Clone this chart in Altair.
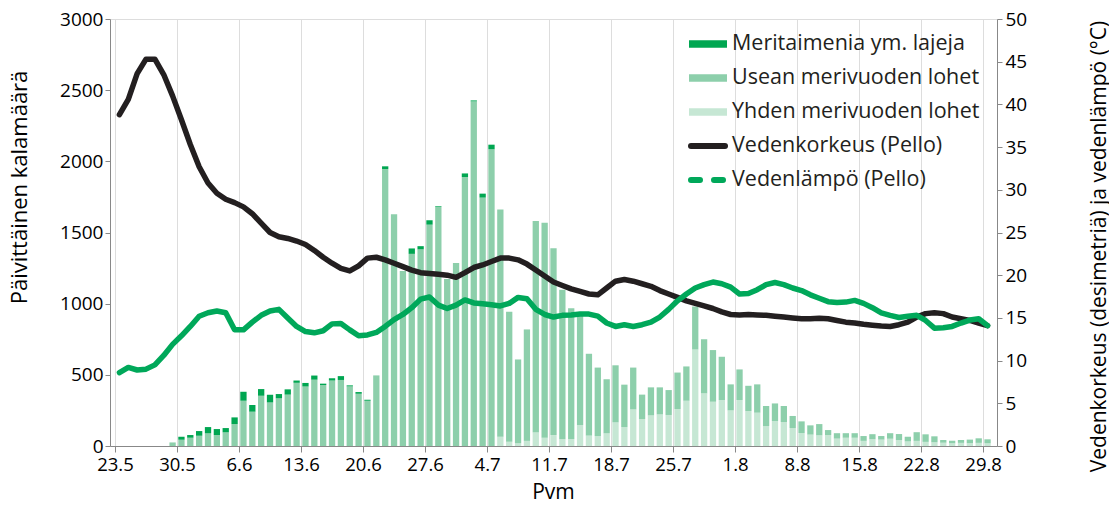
import altair as alt
import pandas as pd

# Day index 0 = 23.5, last index 98 = 29.8
tick_labels = ["23.5", "30.5", "6.6", "13.6", "20.6", "27.6", "4.7", "11.7",
               "18.7", "25.7", "1.8", "8.8", "15.8", "22.8", "29.8"]

first_bar_day = 6  # first counted day (29.5)

meritaimen = [0, 21, 19, 33, 44, 42, 30, 47, 63, 47, 47, 54, 30, 37, 16, 25, 29, 10, 16, 27,
              7, 12, 7, 0, 19, 0, 0, 38, 22, 31, 5, 0, 0, 25, 7, 28, 33,
              0, 0, 0, 0, 0, 0, 0, 0, 0, 0, 0, 0, 0, 0, 0, 0, 0, 0, 0, 0, 0, 0,
              0, 0, 0, 0, 0, 0, 0, 0, 0, 0, 0, 0, 0, 0, 0, 0, 0, 0, 0, 0, 0, 0,
              0, 0, 0, 0, 0, 0, 0, 0, 0, 0, 0, 0, 0, 0]
usean = [25, 44, 58, 72, 89, 77, 96, 154, 318, 241, 353, 306, 335, 361, 444, 418, 466, 428, 460, 464,
         419, 367, 318, 496, 1946, 1628, 1229, 1350, 1382, 1555, 1679, 1173, 1285, 1890, 2421, 1745, 2084,
         1596, 913, 589, 783, 1486, 1510, 1313, 1050, 918, 773, 575, 481, 380, 401, 298, 294, 172, 197,
         190, 175, 256, 241, 302, 380, 363, 304, 183, 215, 177, 199, 141, 124, 113, 85, 82, 65, 79, 35,
         38, 32, 32, 34, 35, 25, 39, 42, 33, 61, 53, 42, 19, 18, 20, 25, 32, 28]
yhden = [0, 0, 0, 0, 0, 0, 0, 0, 0, 0, 0, 0, 0, 0, 0, 0, 0, 0, 0, 0,
         0, 0, 0, 0, 0, 0, 0, 0, 0, 0, 0, 0, 0, 0, 0, 0, 0,
         65, 30, 19, 36, 94, 58, 77, 47, 50, 147, 73, 70, 89, 166, 133, 257, 189, 215,
         222, 218, 260, 318, 678, 370, 311, 323, 250, 323, 246, 234, 140, 175, 168, 126, 91, 80, 75, 77,
         52, 58, 58, 36, 48, 45, 51, 42, 32, 36, 29, 26, 23, 19, 22, 20, 22, 19]

vedenkorkeus = [38.8, 40.6, 43.6, 45.3, 45.3, 43.5, 41.0, 38.2, 35.3, 32.7, 30.8, 29.6, 28.9, 28.5,
                28.0, 27.2, 26.1, 25.0, 24.5, 24.3, 24.0, 23.6, 22.9, 22.1, 21.4, 20.8, 20.5, 21.1,
                22.0, 22.1, 21.8, 21.4, 21.0, 20.6, 20.3, 20.2, 20.1, 20.0, 19.75, 20.3, 20.9, 21.2,
                21.6, 22.0, 22.0, 21.8, 21.3, 20.6, 19.9, 19.2, 18.8, 18.4, 18.1, 17.8, 17.7, 18.5,
                19.3, 19.5, 19.3, 19.0, 18.7, 18.2, 17.8, 17.4, 17.0, 16.7, 16.4, 16.1, 15.7, 15.4,
                15.35, 15.4, 15.35, 15.3, 15.2, 15.1, 15.0, 14.9, 14.9, 14.95, 14.9, 14.7, 14.5, 14.4,
                14.25, 14.15, 14.05, 14.0, 14.2, 14.5, 15.1, 15.5, 15.6, 15.5, 15.1, 14.9, 14.7, 14.4, 14.1]
vedenlampo = [8.6, 9.2, 8.9, 9.0, 9.5, 10.6, 11.9, 12.9, 14.0, 15.2, 15.6, 15.8, 15.6, 13.6,
              13.6, 14.5, 15.3, 15.8, 16.0, 15.0, 14.0, 13.4, 13.25, 13.5, 14.3, 14.35, 13.6, 12.9,
              13.0, 13.3, 14.0, 14.8, 15.4, 16.2, 17.2, 17.45, 16.5, 16.1, 16.5, 17.1, 16.75, 16.65,
              16.55, 16.4, 16.7, 17.4, 17.25, 16.0, 15.4, 15.1, 15.3, 15.35, 15.45, 15.45, 15.2, 14.4,
              14.0, 14.2, 14.0, 14.2, 14.5, 15.1, 16.0, 17.0, 17.8, 18.5, 18.9, 19.2, 19.0, 18.6,
              17.8, 17.85, 18.3, 18.9, 19.15, 18.9, 18.5, 18.2, 17.7, 17.3, 16.9, 16.8, 16.85, 17.05,
              16.7, 16.2, 15.6, 15.3, 15.05, 15.2, 15.3, 14.7, 13.8, 13.85, 14.0, 14.4, 14.75, 14.9, 14.1]

species = ["Meritaimenia ym. lajeja", "Usean merivuoden lohet", "Yhden merivuoden lohet"]
line_labels = ["Vedenkorkeus (Pello)", "Vedenlämpö (Pello)"]
species_colors = ["#00a651", "#8dcfab", "#c6e7d4"]
black = "#231f20"
temp_green = "#00a85a"
FONT = "Open Sans"

rows = []
for k in range(len(usean)):
    pos = first_bar_day + k + 0.5
    for name, vals, o in ((species[2], yhden, 0), (species[1], usean, 1), (species[0], meritaimen, 2)):
        rows.append({"pos": pos, "laji": name, "n": vals[k], "o": o})
bars_df = pd.DataFrame(rows)
lines_df = pd.DataFrame({"pos": [i + 0.5 for i in range(len(vedenkorkeus))],
                         "taso": vedenkorkeus, "lampo": vedenlampo})

label_expr = "[" + ",".join("'%s'" % t for t in tick_labels) + "][round(datum.value / 7)]"

color_scale = alt.Scale(domain=species, range=species_colors)

x_enc = alt.X("pos:Q", scale=alt.Scale(domain=[0, 99], nice=False, zero=False),
              axis=alt.Axis(values=list(range(0, 99, 7)), labelExpr=label_expr, title="Pvm",
                            labelFontSize=18.5, tickSize=6, labelPadding=3, labelFlush=False,
                            titleFontSize=21, titleFontWeight="normal", titleX=443, titleY=46,
                            titleBaseline="middle", titleAlign="center", labelOverlap=False))

bars = alt.Chart(bars_df).mark_bar(size=6.3).encode(
    x=x_enc,
    y=alt.Y("n:Q", stack="zero", scale=alt.Scale(domain=[0, 3000], nice=False),
            axis=alt.Axis(values=list(range(0, 3001, 500)), format="d",
                          title="Päivittäinen kalamäärä",
                          labelFontSize=19, tickSize=5, labelPadding=2, titleFontSize=22,
                          titleFontWeight="normal",
                          titleAngle=270, titleX=-91, titleY=168, titleAlign="center",
                          titleBaseline="middle", grid=False)),
    color=alt.Color("laji:N", scale=color_scale, legend=None),
    order=alt.Order("o:Q", sort="ascending"),
)

right_axis = alt.Axis(orient="right", values=list(range(0, 51, 5)), format="d",
                      title="Vedenkorkeus (desimetriä) ja vedenlämpö (°C)",
                      labelFontSize=19, tickSize=5, labelPadding=3, titleFontSize=21,
                      titleFontWeight="normal",
                      titleAngle=270, titleX=102, titleY=227, titleAlign="center",
                      titleBaseline="middle", grid=False)
y_right = alt.Scale(domain=[0, 50], nice=False)

line_level = alt.Chart(lines_df).mark_line(color=black, strokeWidth=5.5, strokeJoin="round",
                                           strokeCap="round").encode(
    x=alt.X("pos:Q"), y=alt.Y("taso:Q", scale=y_right, axis=right_axis))
line_temp = alt.Chart(lines_df).mark_line(color=temp_green, strokeWidth=5.5, strokeJoin="round",
                                          strokeCap="round").encode(
    x=alt.X("pos:Q"), y=alt.Y("lampo:Q", scale=y_right, axis=right_axis))
lines = alt.layer(line_level, line_temp)

# legend (inside plot, top right)
all_labels = species + line_labels
leg_df = pd.DataFrame({"label": all_labels, "row": list(range(len(all_labels)))})
leg_df["ly"] = 25 + 34 * leg_df["row"]
leg_df["ly1"] = leg_df["ly"] - 3.7
leg_df["ly2"] = leg_df["ly"] + 3.7
sw_df = leg_df.iloc[:3].copy()
sw_df["laji"] = species

leg_text = alt.Chart(leg_df).mark_text(align="left", baseline="middle", fontSize=21.5,
                                       color=black, font=FONT).encode(
    x=alt.value(622), y=alt.Y("ly:Q", scale=None), text="label:N")
leg_sw = alt.Chart(sw_df).mark_rect().encode(
    x=alt.value(579), x2=alt.value(617),
    y=alt.Y("ly1:Q", scale=None), y2=alt.Y2("ly2:Q"),
    color=alt.Color("laji:N", scale=color_scale, legend=None))
leg_black = alt.Chart(leg_df.iloc[3:4]).mark_rule(color=black, strokeWidth=6, strokeCap="round").encode(
    x=alt.value(581), x2=alt.value(615), y=alt.Y("ly:Q", scale=None))
leg_green = alt.Chart(leg_df.iloc[4:5]).mark_rule(color=temp_green, strokeWidth=6, strokeCap="round",
                                                  strokeDash=[9, 14]).encode(
    x=alt.value(581), x2=alt.value(617), y=alt.Y("ly:Q", scale=None))

chart = alt.layer(bars, lines, leg_sw, leg_black, leg_green, leg_text).resolve_scale(
    y="independent"
).properties(
    width=887, height=427,
    autosize=alt.AutoSizeParams(type="none"),
    padding={"left": 102, "top": 11, "right": 112, "bottom": 54},
).configure_view(stroke=None).configure_axis(
    labelFont=FONT, titleFont=FONT, labelColor=black, titleColor=black,
    titleFontWeight="normal", domainColor="#5a5a5a", tickColor="#5a5a5a",
    domainWidth=1.5, tickWidth=1.5,
).configure(font=FONT)

chart.save("out.html", embed_options={"renderer": "svg", "actions": False})
